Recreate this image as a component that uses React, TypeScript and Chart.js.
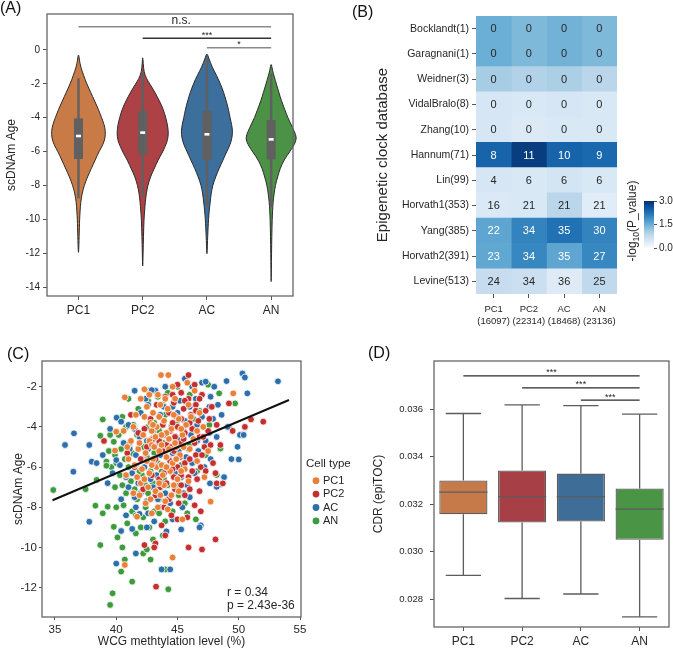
import React, { useEffect, useRef } from 'react';
import { Chart, registerables } from 'chart.js';

Chart.register(...registerables);

const FONT = "'Liberation Sans', Arial, Helvetica, sans-serif";
const TEXT = '#262626';
const FRAME = '#666666';

const groups = ['PC1', 'PC2', 'AC', 'AN'];

// ---------------- Panel A: violins ----------------
const aYTicks = [-14, -12, -10, -8, -6, -4, -2, 0];
const violinColors = ['#C87B47', '#AC4245', '#3C6F9B', '#4B9146'];

const pc1ViolinY = [-0.2, -0.6, -1.0, -1.5, -2.0, -2.5, -3.0, -3.5, -4.0, -4.4, -4.8, -5.2, -5.6, -6.0, -6.5, -7.0, -7.5, -8.0, -8.5, -9.0, -9.5, -10.0, -10.5, -11.0, -11.5, -12.1];
const pc1ViolinW = [0, 0.015, 0.035, 0.08, 0.13, 0.19, 0.25, 0.31, 0.36, 0.4, 0.42, 0.415, 0.38, 0.32, 0.26, 0.2, 0.14, 0.09, 0.055, 0.035, 0.025, 0.018, 0.014, 0.01, 0.007, 0];
const pc2ViolinY = [-0.35, -0.8, -1.3, -1.7, -2.0, -2.5, -3.0, -3.5, -4.0, -4.5, -4.9, -5.3, -5.7, -6.1, -6.5, -7.0, -7.5, -8.0, -8.5, -9.0, -9.5, -10.0, -11.0, -12.0, -13.0];
const pc2ViolinW = [0, 0.008, 0.02, 0.06, 0.11, 0.19, 0.26, 0.32, 0.36, 0.39, 0.4, 0.39, 0.35, 0.3, 0.24, 0.18, 0.12, 0.08, 0.055, 0.04, 0.03, 0.02, 0.012, 0.006, 0];
const acViolinY = [-0.16, -0.5, -1.0, -1.5, -2.0, -2.5, -3.0, -3.5, -4.0, -4.4, -4.8, -5.2, -5.6, -6.0, -6.5, -7.0, -7.5, -8.0, -8.5, -9.0, -9.5, -10.0, -10.5, -11.0, -11.5, -12.2];
const acViolinW = [0, 0.03, 0.08, 0.15, 0.21, 0.26, 0.3, 0.335, 0.36, 0.385, 0.4, 0.39, 0.36, 0.31, 0.25, 0.19, 0.135, 0.09, 0.065, 0.05, 0.035, 0.025, 0.018, 0.012, 0.007, 0];
const anViolinY = [-0.75, -1.2, -1.6, -2.0, -2.5, -3.0, -3.5, -4.0, -4.4, -4.8, -5.2, -5.6, -6.0, -6.5, -7.0, -7.5, -8.0, -8.5, -9.0, -9.5, -10.0, -11.0, -12.0, -13.0, -13.9];
const anViolinW = [0, 0.02, 0.05, 0.08, 0.12, 0.16, 0.21, 0.26, 0.31, 0.36, 0.4, 0.36, 0.29, 0.2, 0.14, 0.1, 0.065, 0.045, 0.03, 0.022, 0.016, 0.01, 0.006, 0.003, 0];

const violinLo = [-8.76, -8.66, -9.25, -9.3];
const violinQ1 = [-6.44, -6.16, -6.5, -6.46];
const violinMed = [-5.08, -4.88, -4.98, -5.28];
const violinQ3 = [-4.04, -3.58, -3.6, -4.13];
const violinHi = [-1.67, -1.28, -0.45, -1.38];

const sigAFrom = [0, 1, 2];
const sigATo = [3, 3, 3];
const sigAY = [1.38, 0.69, 0.135];
const sigALabels = ['n.s.', '***', '*'];
const sigALabelX = [1.6, 2.0, 2.5];

// ---------------- Panel B: heatmap ----------------
const clockRows = ['Bocklandt(1)', 'Garagnani(1)', 'Weidner(3)', 'VidalBralo(8)', 'Zhang(10)', 'Hannum(71)', 'Lin(99)', 'Horvath1(353)', 'Yang(385)', 'Horvath2(391)', 'Levine(513)'];
const colCellCounts = ['(16097)', '(22314)', '(18468)', '(23136)'];
const countPC1 = [0, 0, 0, 0, 0, 8, 4, 16, 22, 23, 24];
const countPC2 = [0, 0, 0, 0, 0, 11, 6, 21, 34, 34, 34];
const countAC = [0, 0, 0, 0, 0, 10, 6, 21, 35, 35, 36];
const countAN = [0, 0, 0, 0, 0, 9, 6, 21, 30, 27, 25];
const heatPC1 = [1.5, 1.5, 1.05, 0.5, 0.5, 2.4, 0.5, 0.42, 1.62, 1.6, 0.72];
const heatPC2 = [1.35, 1.35, 0.95, 0.45, 0.4, 2.85, 0.45, 0.45, 2.05, 2.0, 0.65];
const heatAC = [1.45, 1.45, 1.0, 0.5, 0.45, 2.4, 0.55, 0.85, 2.25, 1.62, 0.38];
const heatAN = [1.35, 1.35, 0.85, 0.45, 0.45, 2.35, 0.45, 0.35, 2.05, 2.0, 0.8];
const cbTicks = [0, 1.5, 3];
const cbMin = 0;
const cbMax = 3;

const BLUES = ['#f7fbff', '#deebf7', '#c6dbef', '#9ecae1', '#6baed6', '#4292c6', '#2171b5', '#08519c', '#08306b'];
function hex2rgb(h: string) {
  return [parseInt(h.slice(1, 3), 16), parseInt(h.slice(3, 5), 16), parseInt(h.slice(5, 7), 16)];
}
function blues(v: number) {
  const t = Math.max(0, Math.min(1, (v - cbMin) / (cbMax - cbMin))) * (BLUES.length - 1);
  const i = Math.min(BLUES.length - 2, Math.floor(t));
  const f = t - i;
  const a = hex2rgb(BLUES[i]);
  const b = hex2rgb(BLUES[i + 1]);
  const c = a.map((x, k) => Math.round(x + (b[k] - x) * f));
  return `rgb(${c[0]},${c[1]},${c[2]})`;
}

// ---------------- Panel C: scatter ----------------
const cXTicks = [35, 40, 45, 50, 55];
const cYTicks = [-12, -10, -8, -6, -4, -2];
const scatterColors = ['#E8803A', '#C3302F', '#2D6FAB', '#3D9A3D'];
const pc1Points: number[][] = [
  [42.5, -3.0], [43.0, -3.3], [43.6, -2.9], [44.2, -3.1], [44.8, -2.6], [42.8, -3.8], [43.3, -4.0], [43.9, -3.7], [44.5, -4.1], [45.1, -3.6],
  [42.2, -4.4], [42.7, -4.7], [43.2, -4.5], [43.7, -4.9], [44.3, -4.6], [44.9, -5.0], [45.4, -4.4], [41.8, -5.1], [42.4, -5.3], [43.0, -5.6],
  [43.5, -5.2], [44.1, -5.5], [44.6, -5.8], [45.2, -5.4], [41.5, -5.9], [42.1, -6.1], [42.7, -6.3], [43.3, -6.0], [43.8, -6.4], [44.4, -6.2],
  [45.0, -6.6], [42.0, -6.8], [42.6, -7.0], [43.2, -7.2], [43.9, -6.9], [44.5, -7.4], [42.4, -7.8], [43.4, -8.0], [44.0, -7.7], [42.9, -8.3],
  [41.2, -4.7], [41.0, -5.6], [40.8, -6.4], [41.6, -3.4], [42.0, -2.6], [45.7, -3.9], [46.0, -5.1], [45.6, -6.1], [46.3, -4.6], [46.8, -3.3],
  [46.4, -2.2], [47.1, -4.0], [43.4, -2.4], [44.6, -2.0], [45.8, -1.8], [47.5, -5.2], [47.2, -6.5], [41.4, -7.3], [40.6, -4.2], [43.7, -5.9],
  [44.8, -4.8], [42.9, -4.9], [43.65, -1.42], [44.25, -1.42], [40.7, -2.53], [42.3, -2.13], [49.55, -2.33], [47.7, -7.72], [45.4, -8.6],
  [44.6, -10.5], [40.7, -10.87], [41.7, -8.47], [40.0, -4.24], [39.9, -5.18],
  [42.3, -3.5], [42.9, -4.2], [43.5, -3.5], [44.1, -4.3], [44.7, -3.4], [45.3, -4.1], [41.9, -4.8], [42.5, -5.7], [43.1, -5.0], [43.7, -4.4],
  [44.3, -5.1], [44.9, -5.6], [45.5, -5.0], [41.7, -6.5], [42.3, -6.6], [42.9, -5.9], [43.5, -6.8], [44.1, -6.0], [44.7, -6.9], [45.3, -6.2],
  [41.9, -7.4], [42.8, -7.6], [43.6, -7.4], [44.2, -8.1], [45.1, -7.2], [45.9, -6.7], [46.1, -3.5], [46.6, -4.2], [45.9, -2.9], [44.0, -2.6],
  [42.7, -2.4], [41.4, -4.0], [40.9, -5.0], [46.6, -5.7], [43.0, -3.9]
];
const pc2Points: number[][] = [
  [44.0, -2.5], [44.7, -2.8], [45.3, -2.3], [45.9, -2.6], [46.5, -2.9], [47.0, -2.4], [44.3, -3.3], [44.9, -3.5], [45.5, -3.1], [46.1, -3.4],
  [46.7, -3.7], [47.3, -3.2], [43.8, -3.9], [44.4, -4.2], [45.0, -4.0], [45.6, -4.3], [46.2, -4.1], [46.8, -4.5], [47.5, -4.2], [43.5, -4.7],
  [44.1, -4.9], [44.7, -5.2], [45.3, -4.8], [45.9, -5.1], [46.5, -5.4], [47.2, -5.0], [43.2, -5.6], [43.8, -5.9], [44.4, -5.7], [45.0, -6.0],
  [45.6, -5.8], [46.2, -6.2], [46.9, -6.0], [42.9, -6.4], [43.5, -6.6], [44.1, -6.8], [44.7, -6.5], [45.3, -6.9], [46.0, -7.1], [43.2, -7.4],
  [44.3, -7.6], [45.1, -7.8], [46.4, -7.9], [42.5, -5.0], [42.8, -3.6], [43.3, -2.9], [41.8, -4.3], [41.5, -6.0], [42.2, -7.1], [47.8, -3.0],
  [48.2, -3.9], [48.5, -4.9], [47.9, -5.8], [48.1, -6.3], [46.4, -1.9], [45.0, -1.9], [44.5, -8.4], [45.8, -8.5], [43.7, -8.9], [40.9, -5.3],
  [39.0, -4.7], [41.2, -3.4], [44.0, -9.4], [52.0, -3.74], [51.0, -3.63], [49.2, -2.83], [48.1, -9.6], [47.0, -10.1], [45.9, -10.0],
  [43.2, -9.8], [43.1, -10.0], [43.25, -11.95], [42.3, -9.88], [45.9, -1.42], [48.2, -6.81], [48.7, -6.81], [49.5, -4.2], [50.5, -4.0],
  [44.6, -2.4], [45.6, -2.7], [46.8, -2.6], [44.6, -3.8], [45.3, -3.6], [46.0, -3.8], [46.5, -3.2], [47.1, -4.5], [43.9, -4.4], [44.8, -4.5],
  [45.5, -4.6], [46.4, -4.8], [47.0, -5.4], [43.8, -5.2], [44.5, -5.0], [45.2, -5.5], [46.0, -5.6], [46.6, -6.6], [43.9, -6.3], [44.6, -6.1],
  [45.3, -6.4], [45.9, -6.5], [47.3, -6.2], [43.6, -7.0], [44.8, -7.1], [45.6, -7.4], [46.8, -7.2], [43.9, -8.0], [45.0, -8.6], [47.6, -3.6],
  [47.7, -4.9], [42.3, -4.1], [42.0, -5.6], [43.0, -4.6], [46.9, -8.2]
];
const acPoints: number[][] = [
  [42.4, -2.6], [43.2, -2.2], [44.0, -2.0], [45.2, -2.7], [46.2, -2.0], [47.0, -1.8], [47.7, -2.5], [48.3, -2.9], [42.0, -3.3], [42.9, -3.9],
  [43.9, -3.0], [45.0, -3.3], [46.0, -3.0], [47.0, -3.5], [47.9, -3.6], [48.6, -3.4], [41.0, -3.9], [41.9, -4.5], [43.0, -4.2], [44.0, -4.4],
  [45.0, -4.6], [46.1, -4.4], [47.3, -4.7], [48.2, -4.5], [40.6, -4.8], [41.6, -5.4], [42.6, -5.1], [43.6, -5.4], [44.6, -5.3], [45.7, -5.5],
  [46.7, -5.2], [47.7, -5.6], [40.3, -5.9], [41.3, -6.3], [42.3, -6.0], [43.3, -6.4], [44.3, -6.1], [45.3, -6.5], [46.4, -6.3], [41.0, -7.0],
  [42.0, -7.3], [43.0, -7.0], [44.0, -7.3], [45.0, -7.1], [46.0, -7.5], [41.6, -8.0], [42.6, -8.3], [43.6, -8.0], [44.6, -8.6], [40.4, -7.6],
  [39.7, -6.3], [39.3, -6.8], [39.5, -4.1], [38.9, -5.4], [42.5, -9.0], [44.1, -9.2], [46.9, -8.9], [49.1, -4.0], [49.4, -5.6], [48.8, -6.5],
  [45.6, -1.6], [41.5, -2.2], [35.82, -4.9], [36.55, -4.32], [36.5, -6.23], [37.8, -4.9], [38.0, -5.73], [38.4, -5.8], [37.8, -8.72],
  [40.03, -3.54], [40.4, -3.74], [40.0, -5.65], [40.0, -10.8], [40.4, -9.18], [41.6, -10.3], [41.3, -9.08], [41.9, -8.33], [42.9, -2.17],
  [43.7, -11.09], [44.4, -11.09], [45.3, -9.1], [50.3, -1.34], [50.5, -1.54], [53.2, -1.73], [50.7, -2.33], [49.9, -4.99], [50.0, -5.62],
  [48.5, -6.86], [48.2, -6.98], [46.8, -9.0], [45.5, -7.3], [49.0, -1.72], [47.3, -1.75], [50.1, -4.4], [50.4, -4.4], [47.65, -6.81],
  [42.6, -2.9], [43.6, -3.4], [44.6, -3.0], [45.6, -3.7], [46.6, -3.9], [47.6, -3.0], [41.5, -4.1], [42.5, -4.7], [43.5, -4.8], [44.5, -4.0],
  [45.5, -4.2], [46.6, -4.7], [47.6, -4.3], [41.1, -5.1], [42.1, -5.6], [43.1, -5.7], [44.1, -5.0], [45.1, -5.2], [46.2, -5.8], [47.2, -6.0],
  [40.8, -6.5], [41.8, -6.8], [42.8, -6.6], [43.8, -6.8], [44.8, -6.3], [45.8, -6.9], [41.5, -7.5], [42.5, -7.7], [43.4, -7.6], [44.4, -7.8],
  [45.4, -8.0], [40.8, -8.4], [43.1, -8.7], [48.0, -2.0], [46.5, -2.6]
];
const anPoints: number[][] = [
  [41.0, -2.6], [41.8, -3.1], [42.6, -2.7], [43.4, -2.5], [44.2, -2.3], [45.0, -2.0], [46.0, -2.4], [47.5, -1.9], [40.5, -3.5], [41.4, -3.9],
  [42.3, -3.5], [43.1, -3.8], [44.0, -3.4], [45.0, -3.7], [46.3, -3.6], [47.6, -3.9], [40.2, -4.4], [41.1, -4.8], [42.0, -4.3], [42.9, -4.6],
  [43.8, -4.8], [44.8, -4.5], [46.0, -4.9], [40.7, -5.6], [41.6, -5.9], [42.5, -5.5], [43.4, -5.8], [44.3, -5.6], [45.3, -5.9], [40.3, -6.4],
  [41.2, -6.7], [42.1, -6.4], [43.0, -6.8], [43.9, -6.6], [44.9, -6.9], [40.8, -7.3], [41.7, -7.6], [42.6, -7.3], [43.5, -7.6], [44.4, -7.4],
  [45.6, -7.8], [41.3, -8.2], [42.2, -8.5], [43.1, -8.2], [44.0, -8.7], [42.7, -9.0], [43.8, -9.4], [39.6, -6.0], [39.4, -5.2], [39.9, -7.0],
  [40.0, -8.0], [46.6, -6.2], [47.3, -5.4], [48.5, -5.1], [49.2, -4.0], [45.8, -8.3], [46.5, -8.6], [41.6, -9.3], [34.86, -7.14], [38.9, -3.63],
  [38.7, -4.44], [39.5, -4.4], [39.8, -4.74], [39.9, -5.4], [39.2, -5.73], [39.2, -5.93], [38.4, -6.64], [38.3, -7.92], [39.3, -7.97],
  [38.9, -8.3], [39.8, -8.97], [40.1, -9.5], [40.5, -10.0], [40.7, -10.6], [40.4, -11.2], [38.7, -9.88], [39.7, -12.28], [39.5, -12.86],
  [41.3, -11.7], [42.2, -10.3], [42.8, -10.6], [44.0, -11.09], [44.25, -12.08], [42.5, -10.1], [43.0, -9.6], [48.4, -2.33], [49.7, -2.83],
  [50.2, -4.4], [48.5, -5.07], [48.2, -6.39], [37.5, -7.1],
  [40.8, -4.0], [41.7, -4.4], [42.6, -4.0], [43.5, -4.2], [44.5, -4.0], [45.5, -4.3], [40.4, -5.1], [41.3, -5.3], [42.2, -5.0], [43.1, -5.3],
  [44.0, -5.2], [45.0, -5.3], [40.0, -5.8], [41.0, -6.0], [41.9, -6.2], [42.8, -6.2], [43.7, -6.2], [44.6, -6.3], [40.5, -6.9], [41.5, -7.1],
  [42.4, -6.9], [43.3, -7.1], [44.2, -6.9], [45.1, -7.4], [40.6, -7.9], [41.6, -8.4], [42.4, -8.0], [43.5, -8.3], [44.6, -8.2], [40.9, -8.8],
  [42.0, -9.0], [42.6, -2.2], [43.8, -2.9], [45.5, -2.7], [46.8, -3.2]
];
const regX = [34.8, 54.1];
const regY = [-7.65, -2.66];
const corrR = '0.34';
const corrP = '2.43e-36';

// ---------------- Panel D: box plot ----------------
const dYTicks = [0.028, 0.030, 0.032, 0.034, 0.036];
const boxColors = ['#C67A49', '#A64046', '#3E6D98', '#4A9446'];
const cdrLo = [0.02900, 0.02803, 0.02822, 0.02726];
const cdrQ1 = [0.03158, 0.03123, 0.03127, 0.03050];
const cdrMed = [0.03251, 0.03232, 0.03232, 0.03179];
const cdrQ3 = [0.03300, 0.03342, 0.03329, 0.03266];
const cdrHi = [0.03582, 0.03618, 0.03615, 0.03579];
const sigDFrom = [0, 1, 2];
const sigDTo = [3, 3, 3];
const sigDY = [0.03740, 0.03690, 0.03638];
const sigDLabels = ['***', '***', '***'];

// ---------------- helpers ----------------
const framePlugin = {
  id: 'frame',
  afterDatasetsDraw(chart: any) {
    const { ctx, chartArea: a } = chart;
    ctx.save();
    ctx.strokeStyle = FRAME;
    ctx.lineWidth = 1.3;
    ctx.strokeRect(a.left, a.top, a.right - a.left, a.bottom - a.top);
    ctx.restore();
  },
};

function tickGrid(len = 4) {
  return { drawOnChartArea: false, drawTicks: true, tickLength: len, tickColor: '#555', tickWidth: 1, offset: false };
}

function baseOptions(padding: any) {
  return {
    animation: false as const,
    responsive: false,
    events: [] as any[],
    layout: { padding, autoPadding: false },
    plugins: { legend: { display: false }, tooltip: { enabled: false } },
  };
}

function smoothClosed(ctx: CanvasRenderingContext2D, pts: number[][]) {
  const n = pts.length;
  const mid = (a: number[], b: number[]) => [(a[0] + b[0]) / 2, (a[1] + b[1]) / 2];
  const m0 = mid(pts[n - 1], pts[0]);
  ctx.moveTo(m0[0], m0[1]);
  for (let k = 0; k < n; k++) {
    const p = pts[k];
    const m = mid(p, pts[(k + 1) % n]);
    ctx.quadraticCurveTo(p[0], p[1], m[0], m[1]);
  }
  ctx.closePath();
}

// ---------------- chart configs ----------------
function makeA() {
  const shapes = [[pc1ViolinY, pc1ViolinW], [pc2ViolinY, pc2ViolinW], [acViolinY, acViolinW], [anViolinY, anViolinW]];
  const violinPlugin = {
    id: 'violins',
    beforeDatasetsDraw(chart: any) {
      const { ctx } = chart;
      const xs = chart.scales.x;
      const ys = chart.scales.y;
      ctx.save();
      shapes.forEach(([vy, vw], i) => {
        const right = vy.map((y, k) => [xs.getPixelForValue(i + vw[k]), ys.getPixelForValue(y)]);
        const left = vy.map((y, k) => [xs.getPixelForValue(i - vw[k]), ys.getPixelForValue(y)]).reverse();
        const pts = right.concat(left.slice(1, -1));
        ctx.beginPath();
        smoothClosed(ctx, pts);
        ctx.fillStyle = violinColors[i];
        ctx.fill();
        ctx.lineWidth = 1;
        ctx.strokeStyle = '#2b2b2b';
        ctx.stroke();
        const cx = xs.getPixelForValue(i);
        ctx.strokeStyle = '#606060';
        ctx.lineWidth = 2.4;
        ctx.beginPath();
        ctx.moveTo(cx, ys.getPixelForValue(violinLo[i]));
        ctx.lineTo(cx, ys.getPixelForValue(violinHi[i]));
        ctx.stroke();
        const y3 = ys.getPixelForValue(violinQ3[i]);
        const y1 = ys.getPixelForValue(violinQ1[i]);
        ctx.fillStyle = '#606060';
        ctx.fillRect(cx - 4.5, y3, 9, y1 - y3);
        const ym = ys.getPixelForValue(violinMed[i]);
        ctx.fillStyle = '#ffffff';
        ctx.fillRect(cx - 2.5, ym - 1.3, 5, 2.6);
      });
      ctx.restore();
    },
  };
  const sigText = {
    id: 'sigTextA',
    afterDatasetsDraw(chart: any) {
      const { ctx } = chart;
      const xs = chart.scales.x;
      const ys = chart.scales.y;
      ctx.save();
      ctx.fillStyle = TEXT;
      ctx.textAlign = 'center';
      ctx.textBaseline = 'alphabetic';
      sigALabels.forEach((t, k) => {
        const big = t === 'n.s.';
        ctx.font = `${big ? 12 : 9}px ${FONT}`;
        ctx.fillText(t, xs.getPixelForValue(sigALabelX[k]), ys.getPixelForValue(sigAY[k]) - (big ? 2.5 : 0.5));
      });
      ctx.restore();
    },
  };
  const sigColors = ['#8a8a8a', '#333333', '#8a8a8a'];
  return {
    type: 'line',
    data: {
      datasets: sigAFrom.map((f, k) => ({
        data: [{ x: f, y: sigAY[k] }, { x: sigATo[k], y: sigAY[k] }],
        borderColor: sigColors[k],
        borderWidth: 1.5,
        pointRadius: 0,
        clip: false,
      })),
    },
    options: {
      ...baseOptions({ left: 0, right: 47, top: 14, bottom: 0 }),
      scales: {
        x: {
          type: 'linear', min: -0.49, max: 3.34, offset: false,
          afterBuildTicks: (ax: any) => { ax.ticks = groups.map((_, i) => ({ value: i })); },
          afterFit: (s: any) => { s.height = 26; },
          ticks: { callback: (v: any) => groups[v], font: { family: FONT, size: 12 }, color: TEXT, padding: 3, maxRotation: 0, autoSkip: false },
          grid: tickGrid(4),
          border: { display: false },
        },
        y: {
          type: 'linear', min: -14.53, max: 2.126, beginAtZero: false,
          afterBuildTicks: (ax: any) => { ax.ticks = aYTicks.map((v) => ({ value: v })); },
          afterFit: (s: any) => { s.width = 47; },
          ticks: { font: { family: FONT, size: 10 }, color: TEXT, padding: 3 },
          grid: tickGrid(4),
          border: { display: false },
          title: { display: true, text: 'scDNAm Age', font: { family: FONT, size: 12 }, color: TEXT, padding: { top: 4, bottom: 0 } },
        },
      },
    },
    plugins: [violinPlugin, framePlugin, sigText],
  };
}

function makeB() {
  const counts = [countPC1, countPC2, countAC, countAN];
  const heats = [heatPC1, heatPC2, heatAC, heatAN];
  const annot = {
    id: 'annot',
    afterDatasetsDraw(chart: any) {
      const { ctx } = chart;
      ctx.save();
      ctx.font = `11px ${FONT}`;
      ctx.textAlign = 'center';
      ctx.textBaseline = 'middle';
      counts.forEach((col, j) => {
        const meta = chart.getDatasetMeta(j);
        meta.data.forEach((el: any, i: number) => {
          ctx.fillStyle = heats[j][i] >= 1.6 ? '#ffffff' : TEXT;
          ctx.fillText(String(col[i]), (el.x + el.base) / 2, el.y + 0.5);
        });
      });
      ctx.restore();
    },
  };
  return {
    type: 'bar',
    data: {
      labels: clockRows,
      datasets: groups.map((g, j) => ({
        label: g,
        data: clockRows.map(() => 1),
        backgroundColor: heats[j].map(blues),
        borderWidth: 0,
        barPercentage: 1,
        categoryPercentage: 1,
      })),
    },
    options: {
      ...baseOptions({ left: 30, right: 56, top: 16, bottom: 0 }),
      indexAxis: 'y',
      scales: {
        x: {
          type: 'linear', stacked: true, min: 0, max: 4, offset: false, beginAtZero: false,
          afterBuildTicks: (ax: any) => { ax.ticks = groups.map((_, i) => ({ value: i + 0.5 })); },
          afterFit: (s: any) => { s.height = 38; },
          ticks: {
            callback: (v: any) => { const i = Math.round(v - 0.5); return [groups[i], colCellCounts[i]]; },
            font: { family: FONT, size: 9.5, lineHeight: 1.3 }, color: TEXT, padding: 5, maxRotation: 0, autoSkip: false,
          },
          grid: tickGrid(4),
          border: { display: false },
        },
        y: {
          type: 'category', stacked: true,
          afterFit: (s: any) => { s.width = 106; },
          ticks: { font: { family: FONT, size: 10.5 }, color: TEXT, padding: 3, autoSkip: false },
          grid: tickGrid(4),
          border: { display: false },
          title: { display: true, text: 'Epigenetic clock database', font: { family: FONT, size: 15 }, color: TEXT, padding: { top: 4, bottom: 0 } },
        },
      },
    },
    plugins: [annot],
  };
}

function makeColorbar() {
  const cbTitle = {
    id: 'cbTitle',
    afterDraw(chart: any) {
      const { ctx } = chart;
      ctx.save();
      ctx.translate(33, 41);
      ctx.rotate(-Math.PI / 2);
      ctx.fillStyle = TEXT;
      ctx.textBaseline = 'middle';
      ctx.textAlign = 'left';
      const main = `12px ${FONT}`;
      const sub = `8.5px ${FONT}`;
      ctx.font = main;
      const w1 = ctx.measureText('-log').width;
      const w3 = ctx.measureText('(P_value)').width;
      ctx.font = sub;
      const w2 = ctx.measureText('10').width;
      let x = -(w1 + w2 + w3) / 2;
      ctx.font = main;
      ctx.fillText('-log', x, 0);
      x += w1;
      ctx.font = sub;
      ctx.fillText('10', x, 3.5);
      x += w2;
      ctx.font = main;
      ctx.fillText('(P_value)', x, 0);
      ctx.restore();
    },
  };
  return {
    type: 'bar',
    data: {
      labels: [''],
      datasets: [{
        data: [[cbMin, cbMax]],
        borderWidth: 0,
        barPercentage: 1,
        categoryPercentage: 1,
        backgroundColor: (c: any) => {
          const ca = c.chart.chartArea;
          if (!ca) return BLUES[4];
          const g = c.chart.ctx.createLinearGradient(0, ca.bottom, 0, ca.top);
          BLUES.forEach((col, k) => g.addColorStop(k / (BLUES.length - 1), col));
          return g;
        },
      }],
    },
    options: {
      ...baseOptions({ left: 44, right: 0, top: 21, bottom: 22 }),
      scales: {
        x: { display: false },
        y: {
          position: 'right', min: cbMin, max: cbMax, beginAtZero: false,
          afterBuildTicks: (ax: any) => { ax.ticks = cbTicks.map((v) => ({ value: v })); },
          afterFit: (s: any) => { s.width = 19; },
          ticks: { callback: (v: any) => Number(v).toFixed(1), font: { family: FONT, size: 10 }, color: TEXT, padding: 2 },
          grid: tickGrid(3),
          border: { display: false },
        },
      },
    },
    plugins: [cbTitle],
  };
}

function makeC() {
  const pts = [pc1Points, pc2Points, acPoints, anPoints];
  const extras = {
    id: 'legendC',
    afterDraw(chart: any) {
      const { ctx, chartArea: a } = chart;
      ctx.save();
      ctx.fillStyle = TEXT;
      ctx.textBaseline = 'middle';
      ctx.textAlign = 'left';
      ctx.font = `11.5px ${FONT}`;
      ctx.fillText('Cell type', 306, 134);
      groups.forEach((g, i) => {
        const y = 150.7 + i * 13.4;
        ctx.beginPath();
        ctx.arc(316, y, 3.4, 0, Math.PI * 2);
        ctx.fillStyle = scatterColors[i];
        ctx.fill();
        ctx.fillStyle = TEXT;
        ctx.font = `11px ${FONT}`;
        ctx.fillText(g, 323, y);
      });
      ctx.font = `12px ${FONT}`;
      ctx.fillText(`r = ${corrR}`, a.left + 185, a.bottom - 24);
      ctx.fillText(`p = ${corrP}`, a.left + 185, a.bottom - 11.5);
      ctx.restore();
    },
  };
  return {
    type: 'scatter',
    data: {
      datasets: [
        ...groups.map((g, i) => ({
          label: g,
          data: pts[i].map(([x, y]) => ({ x, y })),
          backgroundColor: scatterColors[i],
          borderColor: '#ffffff',
          borderWidth: 0.8,
          pointRadius: 3.4,
          order: 0,
        })),
        {
          type: 'line',
          label: 'fit',
          data: regX.map((x, i) => ({ x, y: regY[i] })),
          borderColor: '#111111',
          borderWidth: 2,
          pointRadius: 0,
          showLine: true,
          order: -1,
        },
      ],
    },
    options: {
      ...baseOptions({ left: 0, right: 59, top: 31, bottom: 0 }),
      scales: {
        x: {
          type: 'linear', min: 33.94, max: 55.08,
          afterBuildTicks: (ax: any) => { ax.ticks = cXTicks.map((v) => ({ value: v })); },
          afterFit: (s: any) => { s.height = 32; },
          ticks: { font: { family: FONT, size: 11.5 }, color: TEXT, padding: 3, maxRotation: 0 },
          grid: tickGrid(3),
          border: { display: false },
          title: { display: true, text: 'WCG methtylation level (%)', font: { family: FONT, size: 12 }, color: TEXT, padding: { top: 0, bottom: 0 } },
        },
        y: {
          type: 'linear', min: -13.46, max: -0.72,
          afterBuildTicks: (ax: any) => { ax.ticks = cYTicks.map((v) => ({ value: v })); },
          afterFit: (s: any) => { s.width = 42; },
          ticks: { font: { family: FONT, size: 11.5 }, color: TEXT, padding: 2 },
          grid: tickGrid(3),
          border: { display: false },
          title: { display: true, text: 'scDNAm Age', font: { family: FONT, size: 12 }, color: TEXT, padding: { top: 11, bottom: 0 } },
        },
      },
    },
    plugins: [framePlugin, extras],
  };
}

function makeD() {
  const capHalf = 0.3;
  const boxHalf = 0.41;
  const segs: number[][][] = [];
  groups.forEach((_, i) => {
    segs.push([[i, cdrQ3[i]], [i, cdrHi[i]]]);
    segs.push([[i, cdrQ1[i]], [i, cdrLo[i]]]);
    segs.push([[i - capHalf, cdrHi[i]], [i + capHalf, cdrHi[i]]]);
    segs.push([[i - capHalf, cdrLo[i]], [i + capHalf, cdrLo[i]]]);
    segs.push([[i - boxHalf, cdrMed[i]], [i + boxHalf, cdrMed[i]]]);
  });
  const sigText = {
    id: 'sigTextD',
    afterDatasetsDraw(chart: any) {
      const { ctx } = chart;
      const xs = chart.scales.x;
      const ys = chart.scales.y;
      ctx.save();
      ctx.fillStyle = TEXT;
      ctx.textAlign = 'center';
      ctx.textBaseline = 'alphabetic';
      ctx.font = `9px ${FONT}`;
      sigDLabels.forEach((t, k) => {
        ctx.fillText(t, xs.getPixelForValue((sigDFrom[k] + sigDTo[k]) / 2), ys.getPixelForValue(sigDY[k]) - 0.5);
      });
      ctx.restore();
    },
  };
  return {
    type: 'bar',
    data: {
      datasets: [
        {
          type: 'bar',
          data: groups.map((_, i) => ({ x: i, y: [cdrQ1[i], cdrQ3[i]] })),
          backgroundColor: boxColors,
          borderColor: '#5c5c5c',
          borderWidth: 1.3,
          borderSkipped: false,
          barPercentage: 1,
          categoryPercentage: 0.82,
          order: 5,
        },
        ...segs.map((s) => ({
          type: 'line',
          data: s.map(([x, y]) => ({ x, y })),
          borderColor: '#5c5c5c',
          borderWidth: 1.3,
          pointRadius: 0,
          order: 1,
        })),
        ...sigDFrom.map((f, k) => ({
          type: 'line',
          data: [{ x: f, y: sigDY[k] }, { x: sigDTo[k], y: sigDY[k] }],
          borderColor: '#2a2a2a',
          borderWidth: 1.2,
          pointRadius: 0,
          order: 0,
        })),
      ],
    },
    options: {
      ...baseOptions({ left: 0, right: 4, top: 31, bottom: 0 }),
      scales: {
        x: {
          type: 'linear', min: -0.5, max: 3.5, offset: false,
          afterBuildTicks: (ax: any) => { ax.ticks = groups.map((_, i) => ({ value: i })); },
          afterFit: (s: any) => { s.height = 22; },
          ticks: { callback: (v: any) => groups[v], font: { family: FONT, size: 12 }, color: TEXT, padding: 3, maxRotation: 0, autoSkip: false },
          grid: tickGrid(4),
          border: { display: false },
        },
        y: {
          type: 'linear', min: 0.02683, max: 0.03803, beginAtZero: false,
          afterBuildTicks: (ax: any) => { ax.ticks = dYTicks.map((v) => ({ value: v })); },
          afterFit: (s: any) => { s.width = 94; },
          ticks: { callback: (v: any) => Number(v).toFixed(3), font: { family: FONT, size: 9.5 }, color: TEXT, padding: 7 },
          grid: tickGrid(4),
          border: { display: false },
          title: { display: true, text: 'CDR (epiTOC)', font: { family: FONT, size: 12 }, color: TEXT, padding: { top: 31, bottom: 0 } },
        },
      },
    },
    plugins: [framePlugin, sigText],
  };
}

function ChartCanvas({ make, left, top, width, height }: { make: () => any; left: number; top: number; width: number; height: number }) {
  const ref = useRef<HTMLCanvasElement>(null);
  useEffect(() => {
    const chart = new Chart(ref.current as HTMLCanvasElement, make());
    return () => chart.destroy();
  }, []);
  return (
    <canvas
      ref={ref}
      width={width}
      height={height}
      style={{ position: 'absolute', left, top, width, height }}
    />
  );
}

const letterStyle = (left: number, top: number): React.CSSProperties => ({
  position: 'absolute', left, top, fontFamily: FONT, fontSize: 16, lineHeight: '16px', color: '#111',
});

export default function App() {
  return (
    <div style={{ position: 'absolute', left: 0, top: 0, width: 673, height: 649, background: '#ffffff', overflow: 'hidden' }}>
      <ChartCanvas make={makeA} left={0} top={0} width={340} height={322} />
      <ChartCanvas make={makeB} left={340} top={0} width={333} height={332} />
      <ChartCanvas make={makeColorbar} left={600} top={180} width={73} height={90} />
      <ChartCanvas make={makeD} left={340} top={330} width={333} height={319} />
      <ChartCanvas make={makeC} left={0} top={330} width={360} height={319} />
      <div style={letterStyle(0, 0)}>(A)</div>
      <div style={letterStyle(352, 4)}>(B)</div>
      <div style={letterStyle(7, 346)}>(C)</div>
      <div style={letterStyle(368, 345)}>(D)</div>
    </div>
  );
}
